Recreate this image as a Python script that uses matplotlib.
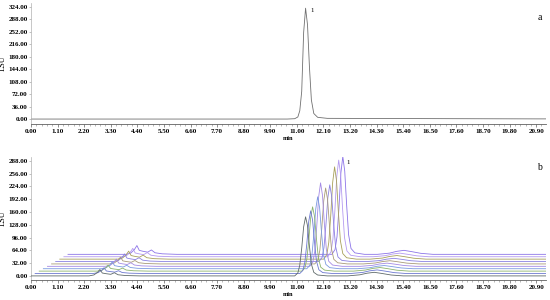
import matplotlib
matplotlib.use('Agg')
import matplotlib.pyplot as plt
from matplotlib.ticker import MultipleLocator, FormatStrFormatter
import numpy as np

plt.rcParams['font.family'] = ['Liberation Serif', 'DejaVu Serif']

# ── panel a : single standard chromatogram ─────────────────────
a_time   = [0.0, 10.6, 10.91, 11.04, 11.12, 11.2, 11.28, 11.36, 11.44, 11.52, 11.6, 11.7, 11.86, 12.26, 20.9, 21.5]
a_signal = [0.0, 0.0, 1.0, 6.0, 24.0, 80.0, 250.0, 320.0, 272.0, 150.0, 55.0, 16.0, 5.0, 2.0, 0.5, 0.5]
a_ticks_y = [0, 36, 72, 108, 144, 180, 216, 252, 288, 324]

# ── panel b : 10 stacked sample chromatograms ─────────────────
n_traces   = 10
b_peak_t   = [11.36, 11.40, 11.31, 11.35, 11.30, 11.34, 11.34, 11.37, 11.37, 11.37]
b_peak_h   = [148, 157, 161, 180, 209, 190, 192, 231, 242, 245]
b_early_h  = [16, 14, 15, 17, 18, 17, 19, 20, 21, 22]
b_bump_t   = [14.2, 14.15, 14.1, 14.1, 14.05, 14.0, 14.0, 13.95, 13.9, 13.9]
b_bump_h   = [9, 9, 9, 8, 8, 8, 8, 9, 9, 10]
b_colors   = ['#5f6a6a', '#6c78d0', '#8cb46c', '#7a9ae0', '#a48ae4',
              '#a89a78', '#8a80e0', '#a8a05a', '#b49af0', '#8c74e8']
b_ticks_y  = [0, 32, 64, 96, 128, 160, 192, 224, 256, 288]
x_step, y_step = 0.17, 6.0   # stacking offsets per trace

# peak shapes (relative)
main_dt  = [-0.45, -0.32, -0.24, -0.16, -0.08, 0.0, 0.08, 0.16, 0.24, 0.34, 0.5, 0.9]
main_rel = [0.0, 0.05, 0.18, 0.47, 0.83, 1.0, 0.85, 0.5, 0.2, 0.06, 0.015, 0.0]
early_t   = [2.4, 2.6, 2.75, 2.85, 2.95, 3.1, 3.3, 3.45, 3.6, 3.9, 4.5]
early_rel = [0.0, 0.15, 0.55, 1.0, 0.45, 0.35, 0.25, 0.5, 0.18, 0.06, 0.0]
bump_dt  = [-1.1, -0.6, -0.3, 0.0, 0.3, 0.7, 1.2]
bump_rel = [0.0, 0.3, 0.75, 1.0, 0.7, 0.25, 0.0]

x_ticks = np.round(np.arange(0, 21.0, 1.1), 2)

fig = plt.figure(figsize=(5.5, 3.0), dpi=100)
ax_a = fig.add_axes([0.0564, 0.587, 0.936, 0.403])
ax_b = fig.add_axes([0.0564, 0.067, 0.936, 0.41])


def style(ax, yticks, ylim):
    ax.set_xlim(0, 21.3)
    ax.set_ylim(*ylim)
    ax.set_xticks(x_ticks)
    ax.set_yticks(yticks)
    ax.xaxis.set_minor_locator(MultipleLocator(0.22))
    ax.xaxis.set_major_formatter(FormatStrFormatter('%.2f'))
    ax.yaxis.set_major_formatter(FormatStrFormatter('%.2f'))
    for s in ['top', 'right']:
        ax.spines[s].set_visible(False)
    ax.spines['left'].set_color('#b0b0b0')
    ax.spines['left'].set_linewidth(0.5)
    ax.spines['bottom'].set_color('#606060')
    ax.spines['bottom'].set_linewidth(0.6)
    ax.tick_params(axis='x', which='major', length=2.5, width=0.5, pad=1.5,
                   labelsize=5, color='#606060')
    ax.tick_params(axis='x', which='minor', length=1.5, width=0.4, color='#808080')
    ax.tick_params(axis='y', length=1.5, width=0.4, pad=1, labelsize=5, color='#909090')
    for lab in ax.get_xticklabels() + ax.get_yticklabels():
        lab.set_fontweight('bold')
    ax.set_ylabel('LSU', fontsize=6, labelpad=1)
    ax.set_xlabel('min', fontsize=4.5, fontweight='bold', labelpad=1)


# panel a
ax_a.plot(a_time, a_signal, color='#707070', lw=0.6)
style(ax_a, a_ticks_y, (-14, 335))
ax_a.text(11.55, 312, '1', fontsize=5, ha='left', va='center')
ax_a.text(0.988, 0.88, 'a', transform=ax_a.transAxes, fontsize=7, ha='center', va='center')

# panel b
for i in range(n_traces):
    t = [0.0] + early_t + [b_peak_t[i] + d for d in main_dt] \
        + [b_bump_t[i] + d for d in bump_dt] + [22.0]
    v = [0.0] + [b_early_h[i] * r for r in early_rel] \
        + [b_peak_h[i] * r for r in main_rel] \
        + [b_bump_h[i] * r for r in bump_rel] + [0.0]
    ax_b.plot(np.array(t) + i * x_step, np.array(v) + i * y_step,
              color=b_colors[i], lw=0.6, zorder=10 - i)
style(ax_b, b_ticks_y, (-10, 298))
ax_b.text(13.05, 283, '1', fontsize=5, ha='left', va='center')
ax_b.text(0.988, 0.91, 'b', transform=ax_b.transAxes, fontsize=7, ha='center', va='center')

fig.savefig('out.png', dpi=100)
